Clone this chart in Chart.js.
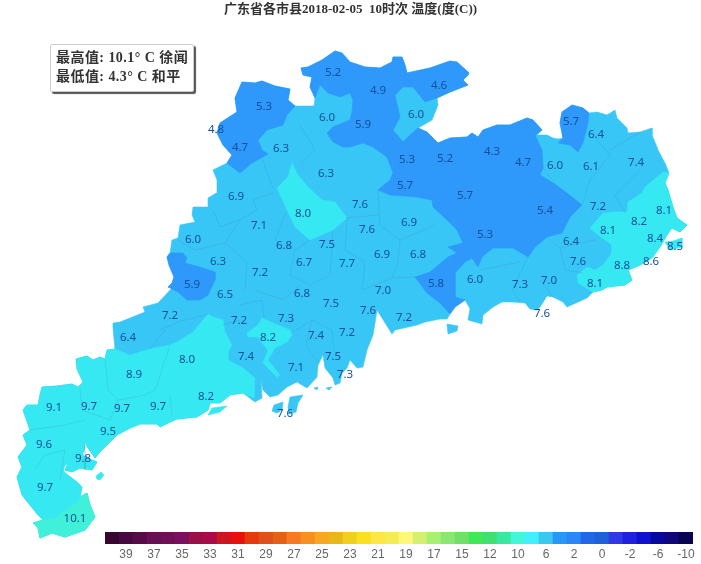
<!DOCTYPE html>
<html><head><meta charset="utf-8">
<script src="https://cdn.jsdelivr.net/npm/chart.js@4/dist/chart.umd.js"></script>
<style>
html,body{margin:0;padding:0;background:#fff;overflow:hidden}
#wrap{position:relative;width:701px;height:564px}
#map{position:absolute;left:0;top:0}
#bar{position:absolute;left:0;top:525px}
#info{position:absolute;left:50px;top:44px;width:144px;height:48px;box-sizing:border-box;background:#fff;border:1px solid #ccc;border-radius:2px;box-shadow:2px 2px 1px #555;font:bold 14px "Liberation Serif","Noto Sans CJK SC";color:#333;padding:3px 0 0 5px;line-height:19px;white-space:pre;letter-spacing:.45px}
</style></head><body>
<div id="wrap">
<canvas id="map" width="701" height="564" style="width:701px;height:564px"></canvas>
<canvas id="bar" width="701" height="39" style="width:701px;height:39px"></canvas>
<div id="info">最高值: 10.1° C 徐闻
最低值: 4.3° C 和平</div>
</div>
<script>
const titleText='广东省各市县2018-02-05  10时次 温度(度(C))';
// station temperature labels
const stationValues=['5.2','4.9','4.6','5.3','6.0','5.9','6.0','5.7','6.4','4.8','4.7','6.3','5.3','5.2','4.3','4.7','6.0','6.1','7.4','6.3','5.7','5.7','6.9','8.0','7.6','5.4','7.2','8.1','8.2','7.1','7.6','6.9','8.1','5.3','8.4','8.5','6.0','6.4','6.8','7.5','6.9','6.8','6.3','7.2','6.7','7.7','7.6','8.8','8.6','5.9','6.5','6.8','7.5','7.0','5.8','6.0','7.3','7.0','8.1','7.2','7.2','7.3','7.6','7.2','7.6','6.4','8.2','7.4','7.2','8.0','7.4','7.1','7.5','7.3','8.9','8.2','9.1','9.7','9.7','9.7','7.6','9.5','9.6','9.8','9.7','10.1'];
const stationX=[333,378,439,264,327,363,416,571,596,216,240,281,407,445,492,523,555,591,636,326,405,465,236,303,360,545,598,664,639,259,367,409,608,485,655,675,193,571,284,327,382,418,218,260,304,347,578,622,651,192,225,302,331,383,436,475,520,549,595,170,239,286,368,404,542,128,268,316,347,187,246,296,333,345,134,206,54,89,122,158,285,108,44,83,45,75];
const stationY=[73,91,86,107,118,125,115,122,135,130,148,149,160,159,152,163,166,167,163,174,186,196,197,214,205,211,207,211,222,226,230,223,231,235,239,247,240,242,246,245,255,255,262,273,263,264,262,266,262,285,295,294,304,291,284,280,285,281,284,316,321,319,311,318,314,338,338,336,333,360,357,368,357,375,375,397,408,407,409,407,414,432,445,459,488,519];
// colour band boundaries (map units)
const provinceOutline=[[242,82],[255,83],[262,81],[275,86],[290,89],[288,100],[295,106],[314,106],[315,98],[310,87],[312,77],[303,75],[301,68],[308,67],[322,60],[335,51],[342,53],[350,62],[365,67],[380,68],[392,62],[393,57],[402,57],[405,65],[407,73],[430,68],[450,61],[457,62],[468,72],[468,75],[463,80],[468,85],[450,92],[437,98],[438,105],[432,120],[418,128],[427,132],[438,143],[450,138],[467,137],[472,133],[478,137],[483,130],[497,125],[510,125],[527,118],[533,120],[542,130],[537,135],[547,135],[553,138],[558,139],[563,138],[560,123],[562,112],[572,105],[583,108],[589,113],[597,112],[607,115],[615,110],[617,118],[627,128],[628,133],[640,132],[652,128],[652,135],[657,147],[658,150],[665,163],[669,173],[665,183],[668,190],[673,207],[677,218],[687,225],[680,232],[672,228],[667,235],[660,247],[652,258],[640,265],[628,270],[632,280],[625,285],[607,287],[602,290],[593,292],[587,298],[567,307],[563,302],[553,297],[547,296],[540,307],[537,310],[530,309],[525,303],[513,302],[502,302],[493,307],[483,315],[482,324],[468,320],[470,309],[468,305],[465,300],[455,307],[450,314],[447,319],[440,319],[425,322],[417,325],[395,330],[392,334],[377,310],[375,323],[373,335],[367,350],[363,367],[357,368],[350,360],[347,368],[342,373],[340,383],[335,385],[333,378],[325,368],[323,355],[318,365],[317,377],[307,388],[297,382],[287,387],[278,395],[270,397],[263,390],[261,380],[262,398],[255,402],[243,393],[230,395],[220,403],[210,403],[208,410],[197,417],[177,419],[170,422],[160,427],[157,424],[140,424],[130,428],[117,435],[105,447],[100,452],[95,458],[88,448],[85,442],[84,450],[82,455],[92,460],[97,462],[92,470],[80,468],[72,472],[65,470],[68,463],[65,465],[63,470],[65,473],[77,482],[82,487],[80,497],[87,493],[90,505],[95,517],[85,530],[65,537],[52,533],[40,538],[38,528],[33,523],[43,520],[38,515],[30,505],[22,495],[17,477],[22,467],[18,457],[27,445],[23,435],[30,430],[23,410],[27,405],[38,405],[40,395],[42,387],[57,386],[72,384],[78,387],[83,382],[77,369],[76,359],[87,356],[93,360],[100,357],[105,359],[107,350],[115,349],[113,328],[113,323],[120,322],[145,312],[143,307],[158,303],[172,288],[168,287],[172,283],[174,277],[169,265],[167,257],[170,253],[172,240],[178,238],[180,225],[195,222],[192,215],[193,207],[208,207],[208,198],[218,192],[217,180],[213,170],[227,163],[232,155],[223,145],[217,133],[220,123],[237,112],[235,98]];
const coldNorthwest=[[242,82],[255,83],[262,81],[275,86],[290,89],[288,100],[295,106],[287,115],[283,125],[267,130],[258,140],[262,150],[268,154],[263,157],[252,163],[240,173],[227,163],[232,155],[223,145],[217,133],[220,123],[237,112],[235,98]];
const coldCentral=[[301,68],[308,67],[322,60],[335,51],[342,53],[350,62],[365,67],[380,68],[392,62],[393,57],[402,57],[405,65],[407,73],[430,68],[450,61],[457,62],[468,72],[468,75],[463,80],[468,85],[450,92],[437,98],[425,102],[413,87],[403,87],[395,95],[400,117],[393,130],[403,142],[410,135],[418,128],[427,132],[438,143],[450,138],[467,137],[472,133],[478,137],[483,130],[497,125],[510,125],[527,118],[533,120],[542,130],[535,135],[542,150],[543,168],[540,175],[553,183],[567,193],[582,205],[570,217],[562,233],[547,237],[535,247],[528,257],[513,248],[493,248],[482,257],[478,267],[472,258],[465,262],[455,273],[455,297],[465,300],[455,307],[450,314],[440,303],[427,293],[415,277],[430,272],[448,257],[457,253],[448,247],[463,243],[457,230],[445,218],[433,207],[432,200],[417,197],[405,196],[390,195],[378,190],[390,180],[393,173],[387,157],[373,147],[363,143],[350,147],[343,147],[333,142],[327,133],[333,127],[350,120],[352,112],[353,100],[350,93],[340,97],[328,93],[320,85],[315,98],[310,87],[312,77],[303,75]];
const coldEast=[[572,105],[583,108],[589,113],[588,123],[583,143],[578,152],[570,145],[558,143],[563,138],[560,123],[562,112]];
const coldWest=[[170,253],[183,253],[187,258],[185,263],[200,267],[215,272],[215,280],[208,295],[200,300],[187,300],[178,292],[168,287],[172,283],[174,277],[169,265],[167,257]];
const warmNorth=[[292,163],[298,175],[308,187],[322,200],[335,202],[347,218],[333,230],[310,240],[295,227],[287,210],[277,188],[288,177]];
const warmEast=[[669,173],[663,172],[645,187],[642,193],[628,202],[627,212],[613,212],[603,213],[590,228],[598,235],[612,245],[612,253],[603,265],[595,270],[587,267],[577,275],[578,283],[593,292],[602,290],[607,287],[625,285],[632,280],[628,270],[640,265],[652,258],[660,247],[667,235],[672,228],[680,232],[687,225],[677,218],[673,207],[668,190],[665,183]];
const warmCentral=[[247,333],[258,325],[262,318],[273,323],[290,330],[292,335],[287,342],[275,348],[268,360],[280,375],[277,377],[263,363],[268,350],[262,343],[258,337],[248,337]];
const warmSouthwest=[[115,349],[130,355],[150,349],[170,345],[177,342],[193,332],[208,314],[213,317],[223,320],[225,332],[232,345],[228,352],[228,360],[243,368],[255,378],[254,398],[243,393],[230,395],[220,403],[210,403],[208,410],[197,417],[177,419],[170,422],[160,427],[157,424],[140,424],[130,428],[117,435],[105,447],[100,452],[95,458],[88,448],[85,442],[84,450],[82,455],[92,460],[97,462],[92,470],[80,468],[72,472],[65,470],[68,463],[65,465],[63,470],[65,473],[77,482],[82,487],[80,497],[87,493],[90,505],[95,517],[85,530],[65,537],[52,533],[40,538],[38,528],[33,523],[43,520],[38,515],[30,505],[22,495],[17,477],[22,467],[18,457],[27,445],[23,435],[30,430],[23,410],[27,405],[38,405],[40,395],[42,387],[57,386],[72,384],[78,387],[83,382],[77,369],[76,359],[87,356],[93,360],[100,357],[105,359],[107,350]];
const hottestSouth=[[43,520],[55,518],[63,512],[78,502],[80,497],[87,493],[90,505],[95,517],[85,530],[65,537],[52,533],[40,538],[38,528],[33,523]];
const islandsMild=[[[272,411],[274,405],[283,402],[282,410],[277,413]],[[288,407],[290,397],[303,395],[298,403],[296,412],[289,414]],[[314,388],[318,387],[317,390]],[[326,388],[332,387],[329,390]],[[447,324],[458,326],[457,331],[448,334]]];
const islandsWarm=[[[665,242],[673,241],[682,238],[682,247],[670,250]],[[96,476],[101,472],[104,475],[100,480],[97,479]],[[208,415],[212,408],[227,406],[220,412]]];
const districtLines=[[[263,160],[267,173],[273,188]],[[213,210],[220,227],[240,220],[257,210],[253,200],[273,193]],[[178,240],[195,250],[225,243],[240,220]],[[225,243],[247,262],[245,290]],[[287,210],[275,240],[295,250],[310,240]],[[295,250],[290,275],[310,285],[330,275],[333,230]],[[347,218],[345,250],[365,262],[362,290]],[[378,190],[380,225],[400,240],[435,225]],[[400,240],[398,262],[392,278],[415,277]],[[362,290],[392,278]],[[300,125],[315,150],[300,165]],[[345,218],[378,215]],[[255,290],[283,300],[300,285]],[[240,305],[262,300],[264,318]],[[222,325],[240,320]],[[293,332],[312,320],[332,330]],[[312,320],[306,345],[320,365]],[[332,330],[334,350]],[[160,330],[178,322],[208,314]],[[150,349],[165,330]],[[105,360],[108,390],[118,400],[145,395],[155,390],[170,345]],[[80,389],[82,410],[110,420],[118,400]],[[170,395],[172,415]],[[30,430],[65,425],[85,420]],[[35,470],[45,455],[65,450],[60,480]],[[85,445],[85,470]],[[543,168],[560,190],[580,205]],[[597,140],[610,155],[590,180],[582,205]],[[625,213],[615,195],[640,170]],[[610,150],[640,132]],[[547,237],[560,248],[595,240]],[[560,248],[565,270],[583,273]],[[528,257],[512,290],[520,302]],[[480,270],[520,262]],[[540,280],[553,297]]];
// colour bar
const legendTicks=['39','37','35','33','31','29','27','25','23','21','19','17','15','12','10','6','2','0','-2','-6','-10'];
const legendColors=['#38062e','#460840','#560a48','#680e55','#700f58','#7a0e60','#9a0e4a','#aa0a48','#cc1520','#e8100c','#e8380e','#e0501a','#e46014','#f87a20','#f89020','#f8a820','#e8b818','#f0d018','#fce020','#fce840','#f4ec50','#fef878','#d4f070','#a8f070','#88e870','#70e068','#40e858','#40e070','#38e8a0','#40f8d8','#40f0ff','#38c8f0','#2898f8','#2888f8','#2068e8','#2060d8','#3038e8','#2020e0','#1010d0','#0808a0','#100878','#080450'];
const cellValues=legendColors.map(()=>1);
const bandCold='#2e98fb',bandMild='#37c6f5',bandWarm='#35e8f1',bandHot='#40f0d8';

const toPts=a=>a.concat([a[0]]).map(p=>({x:p[0],y:p[1]}));
const shapes=[[provinceOutline,bandMild],[coldNorthwest,bandCold],[coldCentral,bandCold],[coldEast,bandCold],[coldWest,bandCold],[warmNorth,bandWarm],[warmEast,bandWarm],[warmCentral,bandWarm],[warmSouthwest,bandWarm],[hottestSouth,bandHot]]
 .concat(islandsMild.map(s=>[s,bandMild])).concat(islandsWarm.map(s=>[s,bandWarm]));
const datasets=shapes.map((s,i)=>({type:'scatter',data:toPts(s[0]),showLine:true,fill:'shape',backgroundColor:s[1],borderColor:s[1],borderWidth:.6,pointRadius:0,tension:0,order:1000-i}));
districtLines.forEach((l,i)=>datasets.push({type:'scatter',data:l.map(p=>({x:p[0],y:p[1]})),showLine:true,fill:false,borderColor:'rgba(70,110,140,.3)',borderWidth:.5,pointRadius:0,order:100-i}));
datasets.push({type:'scatter',data:stationX.map((x,i)=>({x,y:stationY[i]})),pointRadius:0,showLine:false,order:0});
const stationIdx=datasets.length-1;
const labelPlugin={id:'stationText',afterDatasetsDraw(c){const g=c.ctx,m=c.getDatasetMeta(stationIdx);g.save();g.font='11.5px "Noto Sans"';g.fillStyle='#124f9c';g.textAlign='center';g.textBaseline='middle';m.data.forEach((p,i)=>g.fillText(stationValues[i],p.x,p.y));g.restore();}};
new Chart(document.getElementById('map'),{type:'scatter',data:{datasets},plugins:[labelPlugin],options:{responsive:false,animation:false,events:[],layout:{padding:0},
 plugins:{legend:{display:false},tooltip:{enabled:false},title:{display:true,text:titleText,color:'#333',font:{family:'"Liberation Serif","Noto Sans CJK SC"',size:13,weight:'bold',lineHeight:1},padding:{top:3,bottom:2}}},
 scales:{x:{type:'linear',display:false,min:0,max:701},y:{type:'linear',display:false,reverse:true,min:18,max:564}}}});
const cellLabels=legendColors.map((c,i)=>i%2?legendTicks[(i-1)/2]:'');
new Chart(document.getElementById('bar'),{type:'bar',data:{labels:cellLabels,datasets:[{data:cellValues,backgroundColor:legendColors,barPercentage:1,categoryPercentage:1,borderWidth:0}]},options:{responsive:false,animation:false,events:[],layout:{padding:{left:105,right:8,top:7,bottom:0}},
 plugins:{legend:{display:false},tooltip:{enabled:false}},
 scales:{y:{display:false,min:0,max:1},x:{grid:{display:false,drawTicks:false,tickLength:0},border:{display:false},afterFit(s){s.height=20},ticks:{autoSkip:false,maxRotation:0,minRotation:0,padding:3,color:'#666',font:{family:'"Liberation Sans"',size:12}}}}}});
</script>
</body></html>
